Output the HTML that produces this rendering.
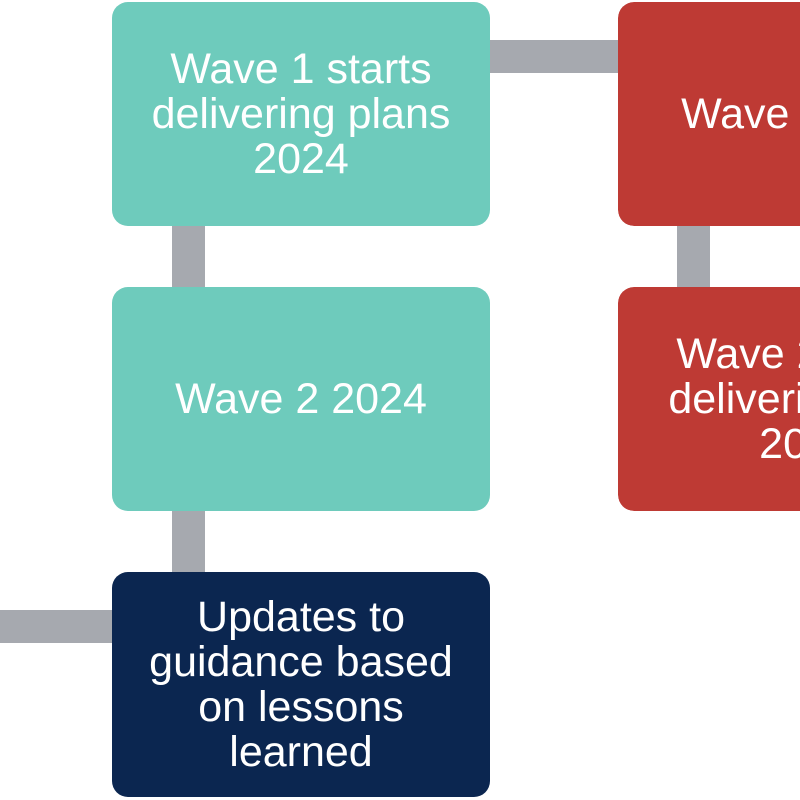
<!DOCTYPE html>
<html><head><meta charset="utf-8"><style>
body{margin:0;width:800px;height:800px;overflow:hidden;background:#fff;position:relative;font-family:"Liberation Sans",sans-serif}
.b{position:absolute;border-radius:16px;color:#fff;font-size:43px;line-height:45px;display:flex;align-items:center;justify-content:center;text-align:center}
.t{background:#6ECBBC}.r{background:#BE3A34}.n{background:#0B2650}
.c{position:absolute;background:#A6A9AF}
.clip{position:absolute;left:618px;width:182px;height:224px;overflow:hidden;border-radius:16px 0 0 16px}
.clip .b{left:0;top:0;width:378px;height:224px;white-space:nowrap}
</style></head><body>
<div class="c" style="left:488px;top:40px;width:132px;height:33px"></div>
<div class="c" style="left:172px;top:224px;width:33px;height:65px"></div>
<div class="c" style="left:677px;top:224px;width:33px;height:65px"></div>
<div class="c" style="left:172px;top:509px;width:33px;height:65px"></div>
<div class="c" style="left:0;top:610px;width:114px;height:33px"></div>
<div class="b t" style="left:112px;top:2px;width:378px;height:224px">Wave 1 starts<br>delivering plans<br>2024</div>
<div class="b t" style="left:112px;top:287px;width:378px;height:224px">Wave 2 2024</div>
<div class="b n" style="left:112px;top:572px;width:378px;height:225px">Updates to<br>guidance based<br>on lessons<br>learned</div>
<div class="clip" style="top:2px"><div class="b r">Wave 1 2025</div></div>
<div class="clip" style="top:287px"><div class="b r">Wave 2 starts<br>delivering plan<br>2025</div></div>
</body></html>
